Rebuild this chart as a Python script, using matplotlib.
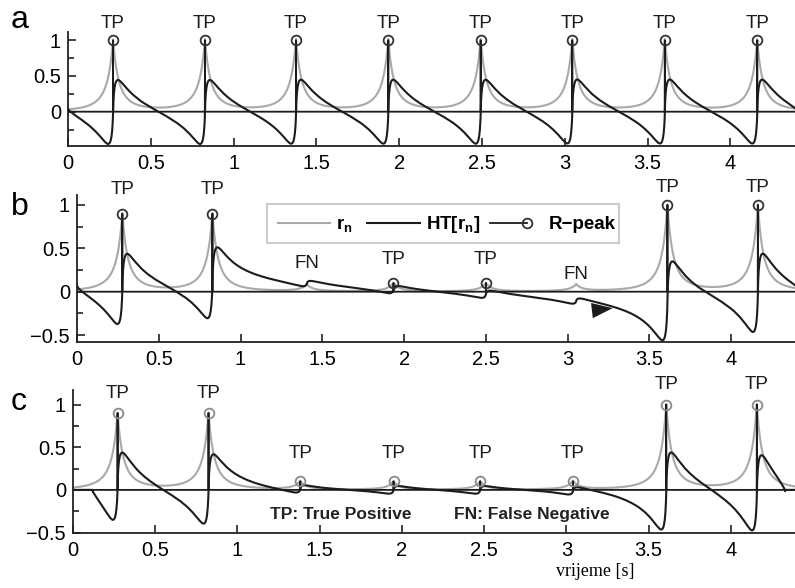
import numpy as np
import matplotlib
matplotlib.use("Agg")
import matplotlib.pyplot as plt
from matplotlib.patches import Rectangle
from matplotlib.lines import Line2D
from matplotlib.ticker import MultipleLocator, FuncFormatter

plt.rcParams["font.family"] = ["Liberation Sans", "DejaVu Sans"]
plt.rcParams["mathtext.fontset"] = "custom"
plt.rcParams["mathtext.rm"] = "Liberation Sans"
plt.rcParams["mathtext.bf"] = "Liberation Sans:bold"

# ---- R-peak instants [s], amplitudes and detection outcome per record ----
peak_t_a = [0.272, 0.827, 1.377, 1.934, 2.492, 3.045, 3.604, 4.162]
peak_amp_a = [1.0, 1.0, 1.0, 1.0, 1.0, 1.0, 1.0, 1.0]
labels_a = ["TP", "TP", "TP", "TP", "TP", "TP", "TP", "TP"]

peak_t_b = [0.277, 0.828, 1.405, 1.935, 2.500, 3.052, 3.610, 4.163]
peak_amp_b = [0.9, 0.9, 0.08, 0.1, 0.1, 0.08, 1.0, 1.0]
labels_b = ["TP", "TP", "FN", "TP", "TP", "FN", "TP", "TP"]

peak_t_c = [0.271, 0.824, 1.382, 1.949, 2.476, 3.040, 3.607, 4.158]
peak_amp_c = [0.9, 0.9, 0.1, 0.1, 0.1, 0.1, 1.0, 1.0]
labels_c = ["TP", "TP", "TP", "TP", "TP", "TP", "TP", "TP"]

# analysis segment and FIR half-length [s] for the windowed transform of record c
segment_c = [0.12, 4.33]
fir_half_len_c = 0.65

x_ticks = [0, 0.5, 1, 1.5, 2, 2.5, 3, 3.5, 4]

# ---- signal model ----
DT = 0.001
t = np.arange(0.0, 4.4, DT)
WIDTH = 0.085
SHAPE = 2.5
HT_GAIN = 1.25


def pulse_train(times, amps):
    r = np.zeros_like(t)
    for tk, ak in zip(times, amps):
        r += ak / (1.0 + np.abs(t - tk) / WIDTH) ** SHAPE
    return r


def hilbert(x):
    """Ideal (FFT) Hilbert transform of a periodically extended record."""
    n = len(x)
    X = np.fft.fft(x)
    h = np.zeros(n)
    h[0] = 1.0
    if n % 2 == 0:
        h[n // 2] = 1.0
        h[1:n // 2] = 2.0
    else:
        h[1:(n + 1) // 2] = 2.0
    return HT_GAIN * np.fft.ifft(X * h).imag


def hilbert_fir(x, half_len):
    """Hann-windowed FIR Hilbert transformer, applied circularly."""
    m = len(x)
    nmax = int(round(half_len / DT))
    k = np.arange(1, nmax)
    taps = (1.0 - np.cos(np.pi * k)) / (np.pi * k) * 0.5 * (1.0 + np.cos(np.pi * k / nmax))
    h = np.zeros(m)
    h[k] = taps
    h[m - k] = -taps
    return HT_GAIN * np.real(np.fft.ifft(np.fft.fft(x) * np.fft.fft(h)))


def rpeak_series(times, amps, labels):
    s = np.zeros_like(t)
    idx = []
    for tk, ak, lab in zip(times, amps, labels):
        if lab == "TP":
            i = int(round(tk / DT))
            s[i] = ak
            idx.append(i)
    return s, idx


GRAY = "#a9a9a9"
BLACK = "#1c1c1c"

W, H = 795, 588
fig = plt.figure(figsize=(W / 100, H / 100), dpi=100)


def axes_px(left, top, right, bottom):
    return fig.add_axes([left / W, 1 - bottom / H, (right - left) / W, (bottom - top) / H])


def style_axes(ax, ylim, yticks):
    ax.set_xlim(0, 4.39)
    ax.set_ylim(*ylim)
    for s in ("top", "right"):
        ax.spines[s].set_visible(False)
    for s in ("left", "bottom"):
        ax.spines[s].set_linewidth(1.3)
        ax.spines[s].set_color("#222222")
    ax.set_xticks(x_ticks)
    ax.set_yticks(yticks)
    ax.yaxis.set_minor_locator(MultipleLocator(0.25))
    fmt = FuncFormatter(lambda v, p: ("%g" % v).replace("-", "\u2212"))
    ax.xaxis.set_major_formatter(fmt)
    ax.yaxis.set_major_formatter(fmt)
    ax.tick_params(which="both", direction="in", labelsize=14.5, width=1.2, color="#222222")
    ax.tick_params(which="major", length=6)
    ax.tick_params(which="minor", length=4)
    ax.tick_params(axis="x", pad=6)
    ax.tick_params(axis="y", pad=5)


def draw_record(ax, times, amps, labels, ht, mark_edge, offsets):
    r = pulse_train(times, amps)
    ax.plot(t, r, color=GRAY, lw=1.5, zorder=2)
    ax.plot(t, ht, color=BLACK, lw=1.5, zorder=3)
    s, idx = rpeak_series(times, amps, labels)
    ax.plot(t, s, color=BLACK, lw=1.3, marker="o", markevery=idx, ms=7,
            mfc="none", mec=mark_edge, mew=1.3, zorder=4)
    for tk, ak, lab, off in zip(times, amps, labels, offsets):
        ax.annotate(lab, xy=(tk, ak), xytext=(0, off), textcoords="offset points",
                    ha="center", va="baseline", fontsize=13.5, color="#1a1a1a")


# record a
ax_a = axes_px(68, 32, 795, 146)
style_axes(ax_a, (-0.48, 1.115), [0, 0.5, 1])
ht_a = hilbert(pulse_train(peak_t_a, peak_amp_a))
draw_record(ax_a, peak_t_a, peak_amp_a, labels_a, ht_a, "#333333", [9] * 8)

# record b
ax_b = axes_px(77, 195, 795, 342)
style_axes(ax_b, (-0.58, 1.115), [-0.5, 0, 0.5, 1])
ht_b = hilbert(pulse_train(peak_t_b, peak_amp_b))
draw_record(ax_b, peak_t_b, peak_amp_b, labels_b, ht_b, "#333333",
            [14, 14, 12, 13.5, 13.5, 4.5, 9, 9])
ax_b.annotate("", xy=(3.275, -0.19), xytext=(3.16, -0.215),
              arrowprops=dict(arrowstyle="-|>,head_length=1.5,head_width=0.55",
                              color=BLACK, lw=0, shrinkA=0, shrinkB=0,
                              mutation_scale=10))

# record c: windowed transform evaluated over the analysis segment only
ax_c = axes_px(73, 390, 795, 533)
style_axes(ax_c, (-0.505, 1.17), [-0.5, 0, 0.5, 1])
r_c = pulse_train(peak_t_c, peak_amp_c)
seg = (t >= segment_c[0]) & (t <= segment_c[1])
ht_c = np.zeros_like(t)
ht_c[seg] = hilbert_fir(r_c[seg], fir_half_len_c)
draw_record(ax_c, peak_t_c, peak_amp_c, labels_c, ht_c, "#8a8a8a",
            [11, 11, 16.5, 16.5, 16.5, 16.5, 11, 11])
ax_c.set_xlabel("vrijeme [s]", family="Liberation Serif", fontsize=13, labelpad=2)
ax_c.xaxis.set_label_coords((595 - 73) / (795 - 73), -0.21)

# panel letters
for letter, (px, py) in zip("abc", [(11, 28), (11, 215), (11, 410)]):
    fig.text(px / W, 1 - py / H, letter, fontsize=23, ha="left", va="baseline")

# legend of record b
fx = lambda px: px / W
fy = lambda py: 1 - py / H
fig.patches.append(Rectangle((fx(267), fy(243)), (619 - 267) / W, (243 - 204) / H,
                             transform=fig.transFigure, facecolor="white",
                             edgecolor="#cccccc", lw=1.5, zorder=5))
ly = 223.5
fig.lines.append(Line2D([fx(278), fx(330)], [fy(ly), fy(ly)], transform=fig.transFigure,
                        color=GRAY, lw=1.5, zorder=6))
fig.lines.append(Line2D([fx(367), fx(420)], [fy(ly), fy(ly)], transform=fig.transFigure,
                        color=BLACK, lw=1.5, zorder=6))
fig.lines.append(Line2D([fx(490), fx(527)], [fy(ly), fy(ly)], transform=fig.transFigure,
                        color=BLACK, lw=1.3, zorder=6, marker="o", markevery=[1],
                        ms=7, mfc="none", mec="#333333", mew=1.3))
fig.text(fx(336), fy(229), r"$\mathbf{r_n}$", fontsize=13.5, zorder=7, va="baseline")
fig.text(fx(426), fy(229), r"$\mathbf{HT[r_n]}$", fontsize=13.5, zorder=7, va="baseline")
fig.text(fx(549), fy(229), "R\u2212peak", fontsize=13.5, fontweight="bold", zorder=7,
         va="baseline")

# outcome key under record c
fig.text(fx(270), fy(519), "TP: True Positive", fontsize=12.5, fontweight="bold",
         color="#222222", va="baseline")
fig.text(fx(454), fy(519), "FN: False Negative", fontsize=12.5, fontweight="bold",
         color="#222222", va="baseline")

fig.savefig("out.png", dpi=100)
